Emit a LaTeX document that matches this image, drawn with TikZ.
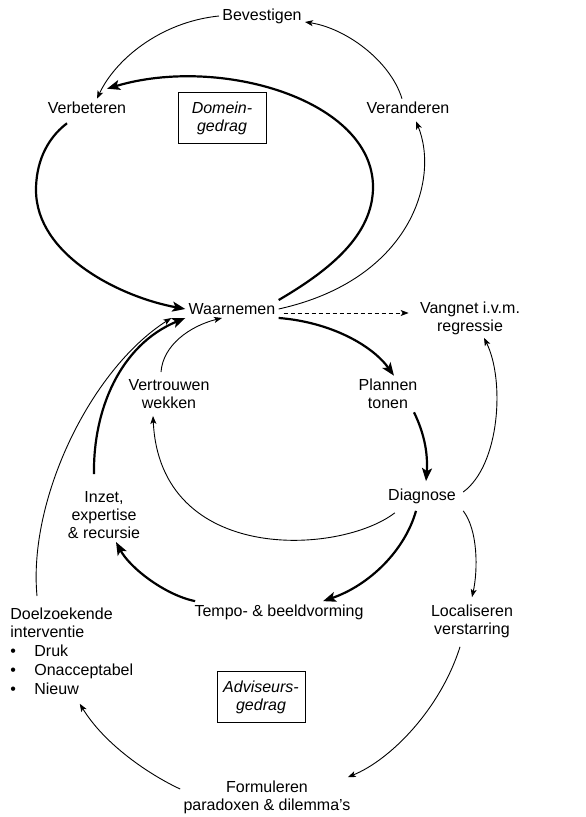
\documentclass[tikz,border=0pt]{standalone}
\usepackage{fontspec}
\setmainfont{Liberation Sans}
\usetikzlibrary{arrows.meta,calc}
\newcommand{\opsom}{\makebox[12pt][l]{\textbullet}}

\begin{document}
\begin{tikzpicture}[x=0.5pt,y=-0.5pt,
    every node/.style={font=\fontsize{8}{9}\selectfont, inner sep=1.5pt, align=center},
    strong/.style={line width=1.1pt, -{Stealth[length=6.5pt,width=5pt,inset=1.5pt]}},
    weak/.style={line width=0.45pt, -{Stealth[length=4pt,width=3pt,inset=1pt]}},
    gedrag/.style={draw, line width=0.5pt, font=\fontsize{8}{9}\selectfont\itshape, minimum width=44pt, minimum height=25.5pt}]
    \useasboundingbox (0,0) rectangle (585,817);
    % domein
    \node (bv) at (262,16) {Bevestigen};
    \node (vb) at (87,108) {Verbeteren};
    \node[gedrag] (dom) at (222,118) {Domein-\\gedrag};
    \node (vr) at (408,108) {Veranderen};
    \node (wa) at (232,309) {Waarnemen};
    \node (vg) at (470,318) {Vangnet i.v.m.\\regressie};
    % adviseur
    \node (vw) at (169,394) {Vertrouwen\\wekken};
    \node (pt) at (388,394) {Plannen\\tonen};
    \node (dg) at (422,496) {Diagnose};
    \node (iz) at (104,515) {Inzet,\\expertise\\\& recursie};
    \node (tp) at (279,612) {Tempo- \& beeldvorming};
    \node (lv) at (472,621) {Localiseren\\verstarring};
    \node[anchor=north west, align=left, font=\fontsize{8}{9.4}\selectfont] (dz) at (7,604) {Doelzoekende\\interventie\\\opsom Druk\\\opsom Onacceptabel\\\opsom Nieuw};
    \node[gedrag] (adv) at (261,697) {Adviseurs-\\gedrag};
    \node (fm) at (267,797) {Formuleren\\paradoxen \& dilemma's};

    \draw[strong] (wa.north east) .. controls (330,270) and (373,235) .. (373,187) .. controls (373,100) and (220,55) .. ([xshift=10pt,yshift=5pt]vb.north);
    \draw[strong] ([xshift=-10pt,yshift=-3pt]vb.south) .. controls (45,140) and (36,165) .. (36,190) .. controls (36,255) and (120,297) .. (wa.west);
    \draw[weak] (wa.east) .. controls (410,280) and (440,180) .. ([xshift=4pt,yshift=-2pt]vr.south);
    \draw[weak] ([xshift=-3pt]vr.north) .. controls (390,60) and (345,28) .. ([yshift=-3pt]bv.east);
    \draw[weak] (bv.west) .. controls (160,22) and (115,60) .. ([xshift=5pt]vb.north);
    \draw[weak,dash pattern=on 2pt off 1.5pt] ($(wa.east)+(5,4)$) -- ($(wa.east -| vg.west)+(-8,4)$);

    \draw[strong] (wa.south east) .. controls (330,322) and (372,345) .. ([xshift=3pt]pt.north);
    \draw[strong] ([xshift=13pt]pt.south) .. controls (425,435) and (428,455) .. ([xshift=2pt,yshift=2pt]dg.north);
    \draw[weak] ([xshift=2pt,yshift=2pt]dg.east) .. controls (500,465) and (505,380) .. ([xshift=7pt]vg.south);
    \draw[weak] ([xshift=5pt,yshift=-3pt]dg.south west) .. controls (340,555) and (160,565) .. ([xshift=-8pt,yshift=-2pt]vw.south);
    \draw[weak] ([xshift=-4pt,yshift=2pt]vw.north) .. controls (163,345) and (190,326) .. ([xshift=-5pt]wa.south);
    \draw[strong] ([xshift=-3pt,yshift=-2pt]dg.south) .. controls (405,550) and (370,585) .. ([xshift=22pt]tp.north);
    \draw[strong] ([xshift=2pt]tp.north west) .. controls (165,595) and (130,568) .. ([xshift=6pt]iz.south);
    \draw[strong] ([xshift=-5pt,yshift=7pt]iz.north) .. controls (93,410) and (120,345) .. (wa.south west);
    \draw[weak] ([xshift=15pt,yshift=4pt]dz.north west) .. controls (28,500) and (90,370) .. ([xshift=-7pt]wa.south west);
    \draw[weak] ([xshift=2pt,yshift=-2pt]dg.south east) .. controls (478,530) and (478,570) .. ([yshift=2pt]lv.north);
    \draw[weak] ([xshift=-6pt,yshift=-3pt]lv.south) .. controls (440,710) and (390,760) .. ([xshift=-3pt]fm.north east);
    \draw[weak] ([yshift=4pt]fm.west) .. controls (150,775) and (105,745) .. ([xshift=4pt,yshift=-3pt]dz.south);
\end{tikzpicture}
\end{document}
